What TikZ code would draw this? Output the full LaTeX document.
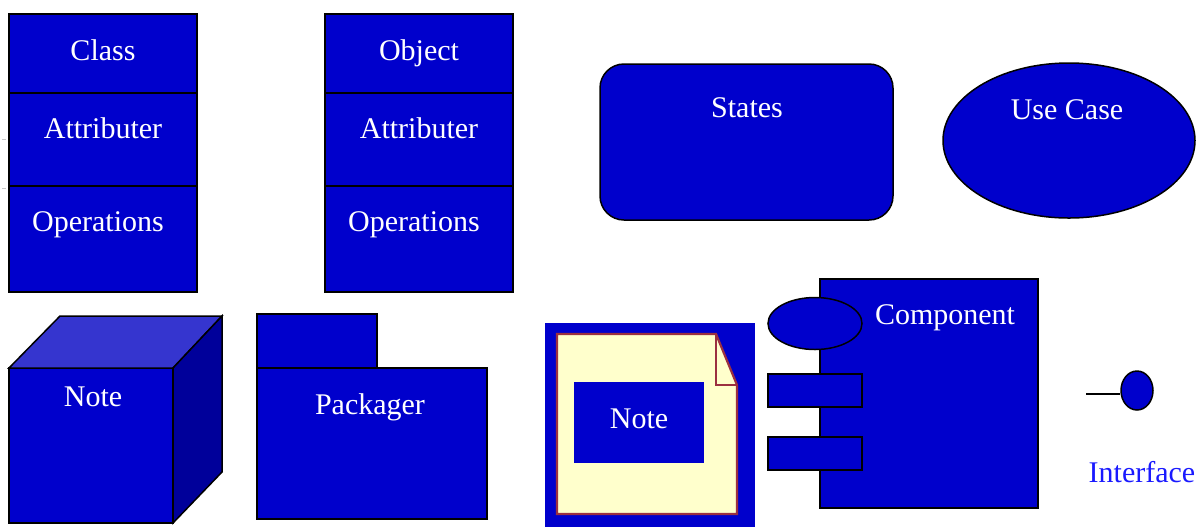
\documentclass[tikz,border=0pt]{standalone}
\usepackage{fontspec}
\setmainfont{Liberation Serif}
\usetikzlibrary{shapes.geometric}
\definecolor{umlblue}{HTML}{0000CC}
\definecolor{cubetop}{HTML}{3535CF}
\definecolor{cubeside}{HTML}{00009A}
\definecolor{notepaper}{HTML}{FFFFCC}
\definecolor{noteedge}{HTML}{9B3040}
\definecolor{ifaceblue}{HTML}{1A1AFF}
\begin{document}
\begin{tikzpicture}[x=0.5pt,y=-0.5pt,
  umlshape/.style={draw=black, fill=umlblue, line width=0.75pt},
  umltext/.style={text=white, font=\fontsize{15}{18}\selectfont, anchor=base, inner sep=0pt},
  tick/.style={draw=gray!45, line width=0.5pt}]
\useasboundingbox (0,0) rectangle (1200,527);

% small margin ticks
\draw[tick] (2,139) -- (6,139);
\draw[tick] (2,188) -- (6,188);

% ---- class box ----
\draw[umlshape] (9,14) rectangle (197,93);
\draw[umlshape] (9,93) rectangle (197,186);
\draw[umlshape] (9,186) rectangle (197,292);
\node[umltext] (classname) at (103,60) {Class};
\node[umltext] (classattr) at (103,138) {Attributer};
\node[umltext] (classops)  at (98,231) {Operations};

% ---- object box ----
\draw[umlshape] (325,14) rectangle (513,93);
\draw[umlshape] (325,93) rectangle (513,186);
\draw[umlshape] (325,186) rectangle (513,292);
\node[umltext] (objname) at (419,60) {Object};
\node[umltext] (objattr) at (419,138) {Attributer};
\node[umltext] (objops)  at (414,231) {Operations};

% ---- state ----
\draw[umlshape, rounded corners=12pt] (600,64) rectangle (893,220);
\node[umltext] (states) at (747,117) {States};

% ---- use case ----
\draw[umlshape] (1069,140.5) ellipse [x radius=63pt, y radius=38.75pt];
\node[umltext] (usecase) at (1067,119) {Use Case};

% ---- node (cube) ----
\draw[umlshape] (9,368) rectangle (173,523);
\draw[umlshape, fill=cubetop] (9,368) -- (60,316) -- (222,316) -- (173,368) -- cycle;
\draw[umlshape, fill=cubeside] (173,368) -- (222,316) -- (222,472) -- (173,523) -- cycle;
\node[umltext] (cubenote) at (93,406) {Note};

% ---- package ----
\draw[umlshape] (257,314) rectangle (377,368);
\draw[umlshape] (257,368) rectangle (487,519);
\node[umltext] (packager) at (370,414) {Packager};

% ---- note ----
\fill[umlblue] (545,323) rectangle (755,527);
\draw[draw=noteedge, fill=notepaper, line width=1.1pt]
  (557,334) -- (716,334) -- (737,385) -- (737,514) -- (557,514) -- cycle;
\draw[draw=noteedge, line width=0.7pt] (716,334) -- (716,385) -- (737,385);
\fill[umlblue] (574,382) rectangle (704,463);
\node[umltext] (notetext) at (639,428) {Note};

% ---- component ----
\draw[umlshape] (820,279) rectangle (1038,508);
\draw[umlshape] (815,323.5) ellipse [x radius=23.5pt, y radius=13pt];
\draw[umlshape] (768,374) rectangle (862,407);
\draw[umlshape] (768,437) rectangle (862,470);
\node[umltext] (component) at (945,324) {Component};

% ---- interface ----
\node[umlshape, ellipse, minimum width=16pt, minimum height=19.5pt, inner sep=0pt] (iface) at (1137,390.5) {};
\coordinate (ifacestub) at (1086,394);
\draw[line width=0.75pt] (ifacestub) -- (iface.west |- ifacestub);
\node[umltext, text=ifaceblue] (ifacelabel) at (1142,482) {Interface};
\end{tikzpicture}
\end{document}
